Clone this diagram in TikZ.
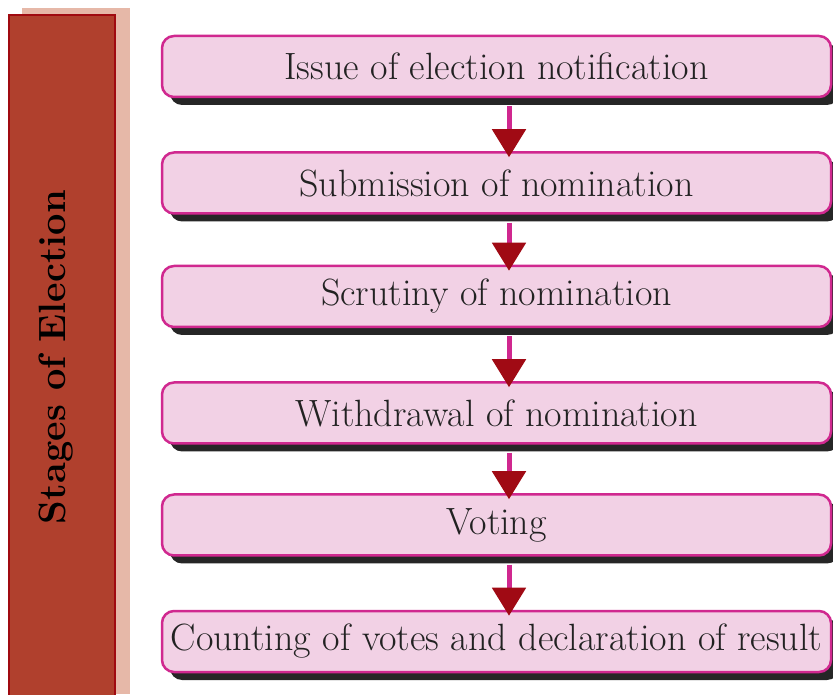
\documentclass[tikz,border=0pt]{standalone}
\usetikzlibrary{arrows.meta,shadows,calc}

\definecolor{boxfill}{HTML}{F2D1E5}
\definecolor{boxline}{HTML}{D0288F}
\definecolor{tipred}{HTML}{A00A14}
\definecolor{barred}{HTML}{B0402D}
\definecolor{barline}{HTML}{A00A10}
\definecolor{barback}{HTML}{E6B8A8}
\definecolor{inkgray}{HTML}{222222}

\tikzset{
  stagebox/.style={draw=boxline, line width=2.5pt, fill=boxfill, rounded corners=12pt,
    minimum width=669pt, minimum height=61pt, inner sep=0pt, text=inkgray,
    font=\fontsize{38}{44}\selectfont,
    drop shadow={shadow xshift=8pt, shadow yshift=-8pt, fill=black!85, opacity=1}},
  stagearrow/.style={draw=boxline, line width=5pt,
    -{Triangle[width=33pt,length=28pt,color=tipred]}, shorten >=-6pt},
}

\begin{document}
\begin{tikzpicture}[x=1pt,y=1pt]
  \useasboundingbox (0,0) rectangle (833,694);
  % side bar
  \fill[barback] (22,0) rectangle (130,686);
  \draw[barline, line width=2.5pt, fill=barred] (9,-5) rectangle (115,679);
  \node[rotate=90, font=\fontsize{38}{44}\selectfont\bfseries] (title) at (56,337) {Stages of Election};
  % stages
  \node[stagebox] (s1) at (496.5,627.5) {Issue of election notification};
  \node[stagebox] (s2) at (496.5,511) {Submission of nomination};
  \node[stagebox] (s3) at (496.5,397.5) {Scrutiny of nomination};
  \node[stagebox] (s4) at (496.5,281) {Withdrawal of nomination};
  \node[stagebox] (s5) at (496.5,169) {Voting};
  \node[stagebox] (s6) at (496.5,52.5) {Counting of votes and declaration of result};
  % arrows
  \foreach \a/\b in {s1/s2,s2/s3,s3/s4,s4/s5,s5/s6}
    \draw[stagearrow] ($(\a.south)+(12.5,-8)$) -- ($(\b.north)+(12.5,0)$);
\end{tikzpicture}
\end{document}
